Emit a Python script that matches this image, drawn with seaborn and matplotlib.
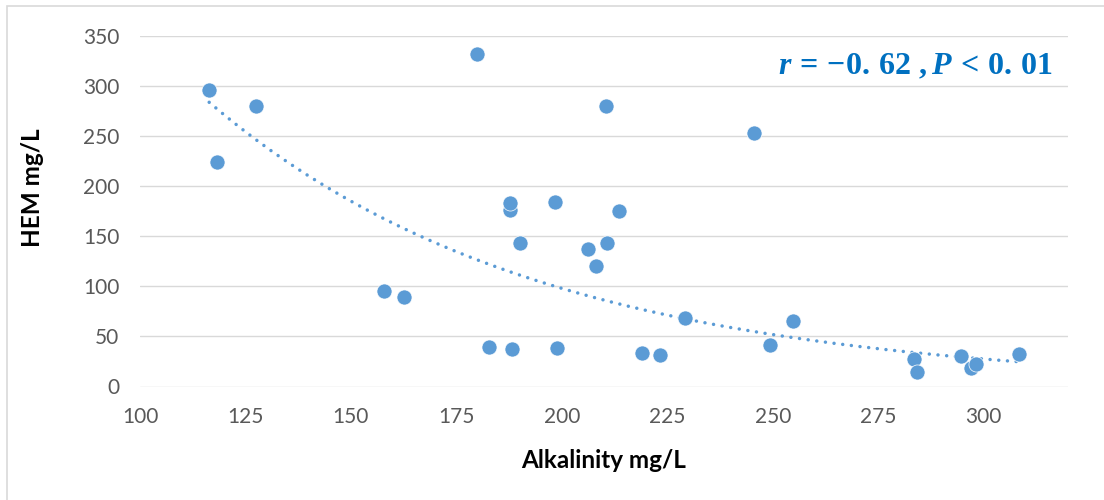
import numpy as np
import pandas as pd
import seaborn as sns
import matplotlib.pyplot as plt
from matplotlib.patches import Rectangle

# Alkalinity vs HEM
alkalinity = [116.4, 118.3, 127.4, 157.9, 162.6, 180.0, 182.8, 187.6, 187.8, 188.3,
              190.1, 198.3, 198.8, 206.1, 208.2, 210.5, 210.7, 213.5, 219.1, 223.3,
              229.1, 245.5, 249.4, 254.7, 283.4, 284.3, 294.7, 297.0, 298.3, 308.3]
hem = [296, 223.5, 280, 95, 89.3, 332, 39, 176, 183.5, 37,
       143.5, 184, 38, 137, 120.5, 280.3, 143, 175, 33, 31,
       68.3, 253.3, 41.7, 65.3, 27, 14.5, 30.5, 18.5, 22.5, 32]

df = pd.DataFrame({'Alkalinity': alkalinity, 'HEM': hem})

# exponential trendline (like Excel): ln(y) = b*x + ln(a)
b, ln_a = np.polyfit(df['Alkalinity'], np.log(df['HEM']), 1)
trend = pd.DataFrame({'Alkalinity': np.linspace(df['Alkalinity'].min(), df['Alkalinity'].max(), 200)})
trend['HEM'] = np.exp(ln_a) * np.exp(b * trend['Alkalinity'])

sns.set_style('white')
plt.rcParams['font.family'] = ['Lato', 'DejaVu Sans']
plt.rcParams['mathtext.fontset'] = 'custom'
plt.rcParams['mathtext.rm'] = 'Liberation Serif:bold'
plt.rcParams['mathtext.it'] = 'Liberation Serif:italic:bold'
plt.rcParams['mathtext.bf'] = 'Liberation Serif:bold'

blue = '#5B9BD5'
fig = plt.figure(figsize=(11.04, 5), dpi=100)
ax = fig.add_axes([140 / 1104, 1 - 386.5 / 500, 928 / 1104, 350.8 / 500])

sns.lineplot(data=trend, x='Alkalinity', y='HEM', ax=ax, color=blue, linewidth=2.5,
             linestyle=(0, (0.01, 2.5)), dash_capstyle='round', zorder=2)
sns.scatterplot(data=df, x='Alkalinity', y='HEM', ax=ax, color=blue, s=118,
                edgecolor='white', linewidth=0.5, zorder=3)

ax.set_xlim(100, 320)
ax.set_ylim(0, 350)
ax.set_xticks(np.arange(100, 301, 25))
ax.set_yticks(np.arange(0, 351, 50))
ax.grid(axis='y', color='#D9D9D9', linewidth=1.0, zorder=0)
ax.set_axisbelow(True)
for s in ax.spines.values():
    s.set_visible(False)
ax.tick_params(length=0, labelsize=15, labelcolor='#595959')
ax.tick_params(axis='x', pad=15)
ax.tick_params(axis='y', pad=15)
ax.set_xlabel('')
ax.set_ylabel('')

fig.text(604 / 1104, 1 - 460 / 500, 'Alkalinity mg/L', ha='center', va='center',
         fontsize=17.5, fontweight='bold', color='black')
fig.text(33 / 1104, 1 - 188 / 500, 'HEM mg/L', ha='center', va='center', rotation=90,
         fontsize=17.5, fontweight='bold', color='black')

fig.text(1053 / 1104, 1 - 74 / 500, r'$r\,=\,{-}0.\,62\ ,P\,<\,0.\,01$', ha='right', va='baseline',
         fontsize=23, color='#0070C0')

# chart border
fig.patches.append(Rectangle((7 / 1104, -0.1), 1.2, 1 - 6 / 500 + 0.1, transform=fig.transFigure,
                             fill=False, edgecolor='#D9D9D9', linewidth=1.2))

fig.savefig('out.png', dpi=100)
